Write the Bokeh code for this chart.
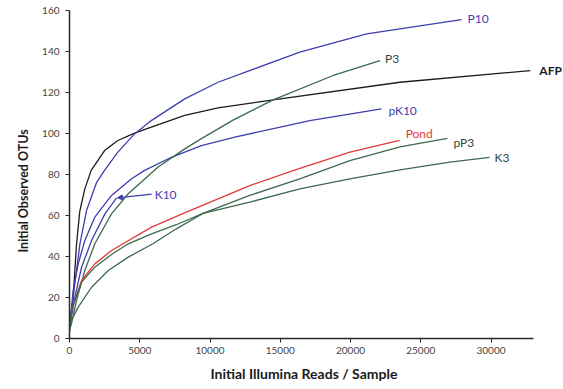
from bokeh.plotting import figure
from bokeh.models import Range1d, FixedTicker, Arrow, NormalHead, ColumnDataSource, Title
from bokeh.core.properties import value
from bokeh.embed import file_html
from bokeh.resources import INLINE

# ---- data (reads per sample, observed OTUs) ----
afp_x = [0, 260, 500, 730, 1090, 1545, 2495, 3440, 4630, 5820, 8200, 10570, 14490, 23520, 32800]
afp_y = [5, 20, 46, 62, 73, 82, 91.7, 96.6, 100.2, 103.1, 108.8, 112.5, 116.4, 125, 130.7]

p10_x = [0, 380, 740, 1210, 1920, 2495, 3440, 4630, 5820, 8200, 10570, 16390, 21150, 27900]
p10_y = [5, 26.7, 46, 62.4, 76, 82, 90.9, 99.8, 106.3, 116.9, 125, 139.7, 148.6, 155.5]

pk10_x = [0, 260, 620, 1090, 1800, 2990, 4420, 5350, 7250, 9390, 11760, 17100, 22200]
pk10_y = [5, 23.4, 36.4, 47.8, 59.2, 69.8, 77.9, 82, 88.4, 94.1, 98.2, 106.3, 112]

k10_x = [0, 380, 860, 1570, 2520, 3350]
k10_y = [5, 20, 34.8, 47.8, 60.8, 68.6]

p3_x = [0, 140, 500, 1090, 1800, 2990, 4180, 6290, 8200, 9270, 11640, 14490, 18770, 22100]
p3_y = [4, 7.2, 18.5, 33.2, 46.2, 60.8, 70.6, 83.5, 92.5, 97, 106.5, 116.4, 128.3, 135.6]

pond_x = [0, 140, 860, 1800, 2990, 5840, 8320, 12830, 16390, 19960, 23500]
pond_y = [5, 13.7, 28.3, 36.4, 42.9, 54.3, 61.6, 74.6, 83, 90.9, 96.6]

k3_x = [0, 140, 860, 1800, 2990, 4180, 5840, 7600, 9500, 12830, 16390, 19960, 23520, 27080, 29900]
k3_y = [5, 13.7, 27.5, 34.8, 41, 46.2, 51, 55.5, 61, 66.5, 73, 77.9, 82.3, 86, 88.4]

pp3_x = [0, 20, 620, 1570, 2760, 4180, 5940, 7600, 9500, 12830, 16390, 19960, 23520, 26900]
pp3_y = [3, 7.2, 15.3, 25, 33.2, 39.7, 46.2, 53.5, 61, 69.8, 77.9, 86.8, 93.5, 97.6]

x_ticks = [0, 5000, 10000, 15000, 20000, 25000, 30000]
y_ticks = [0, 20, 40, 60, 80, 100, 120, 140, 160]

# ---- styling ----
BLUE = "#3e3eb0"
GREEN = "#3c6a4e"
BLACK = "#1c1c1c"
RED = "#e23a3a"
LBL_GREEN = "#33463a"
FONT = "Lato"

series = [
    # name, xs, ys, line colour, label colour, label offset (px, screen y down), weight
    ("AFP", afp_x, afp_y, BLACK, BLACK, (9, 0), "bold"),
    ("P10", p10_x, p10_y, BLUE, BLUE, (6, -1), "normal"),
    ("pK10", pk10_x, pk10_y, BLUE, BLUE, (7, 2), "normal"),
    ("K10", k10_x, k10_y, BLUE, BLUE, None, "normal"),
    ("P3", p3_x, p3_y, GREEN, LBL_GREEN, (5, -2), "normal"),
    ("Pond", pond_x, pond_y, RED, RED, (6, -7), "normal"),
    ("pP3", pp3_x, pp3_y, GREEN, LBL_GREEN, (6, 4), "normal"),
    ("K3", k3_x, k3_y, GREEN, LBL_GREEN, (5, 0), "normal"),
]

W, H = 563, 389
LEFT, TOP, BOTTOM = 69, 10, 51
px_per_unit = 0.01405
x_end = (W - LEFT) / px_per_unit

p = figure(width=W, height=H, output_backend="svg", toolbar_location=None,
           x_range=Range1d(0, x_end), y_range=Range1d(0, 160),
           min_border_left=LEFT, min_border_right=0,
           min_border_top=TOP, min_border_bottom=BOTTOM)
p.outline_line_color = None
p.grid.visible = False
p.background_fill_color = "white"
p.border_fill_color = "white"

for name, xs, ys, lc, tc, off, style in series:
    p.line(xs, ys, line_color=lc, line_width=1.3, line_join="round")
    if off is not None:
        src = ColumnDataSource(dict(x=[xs[-1]], y=[ys[-1]], t=[name]))
        p.text(x="x", y="y", text="t", source=src, x_offset=off[0], y_offset=off[1],
               text_color=tc, text_font=value(FONT), text_font_size="12px",
               text_font_style=style, text_baseline="middle", text_align="left")

# K10 label with pointer to its curve end
kx, ky = k10_x[-1], k10_y[-1]
lab_x = kx + 2500
lab_y = ky + 1.8
src = ColumnDataSource(dict(x=[lab_x], y=[lab_y], t=["K10"]))
p.text(x="x", y="y", text="t", source=src, x_offset=3, text_color=BLUE,
       text_font=value(FONT), text_font_size="12px", text_baseline="middle", text_align="left")
p.add_layout(Arrow(end=NormalHead(size=5, fill_color=BLUE, line_color=BLUE),
                   x_start=lab_x, y_start=lab_y, x_end=kx + 60, y_end=ky,
                   line_color=BLUE, line_width=1.2))

# axes
for ax in (p.xaxis[0], p.yaxis[0]):
    ax.axis_line_color = "#2a2a2a"
    ax.axis_line_width = 1.5
    ax.major_tick_line_color = "#2a2a2a"
    ax.major_tick_in = 0
    ax.major_tick_out = 4
    ax.minor_tick_line_color = None
    ax.major_label_text_font = FONT
    ax.major_label_text_font_size = "10px"
    ax.major_label_text_color = "#444444"

p.xaxis.ticker = FixedTicker(ticks=x_ticks)
p.yaxis.ticker = FixedTicker(ticks=y_ticks)
p.xaxis.bounds = (0, 33000)
p.yaxis.bounds = (0, 160)
p.xaxis.major_label_standoff = 4
p.yaxis.major_label_standoff = 6

p.add_layout(Title(text="Initial Observed OTUs", align="left", offset=86,
                   text_font=FONT, text_font_size="12.5px", text_font_style="bold",
                   text_color="#1a1a1a", standoff=18), "left")

p.add_layout(Title(text="Initial Illumina Reads / Sample", align="left", offset=141,
                   text_font=FONT, text_font_size="14px", text_font_style="bold",
                   text_color="#1a1a1a", standoff=12), "below")

open("out.html", "w").write(file_html(p, INLINE))
